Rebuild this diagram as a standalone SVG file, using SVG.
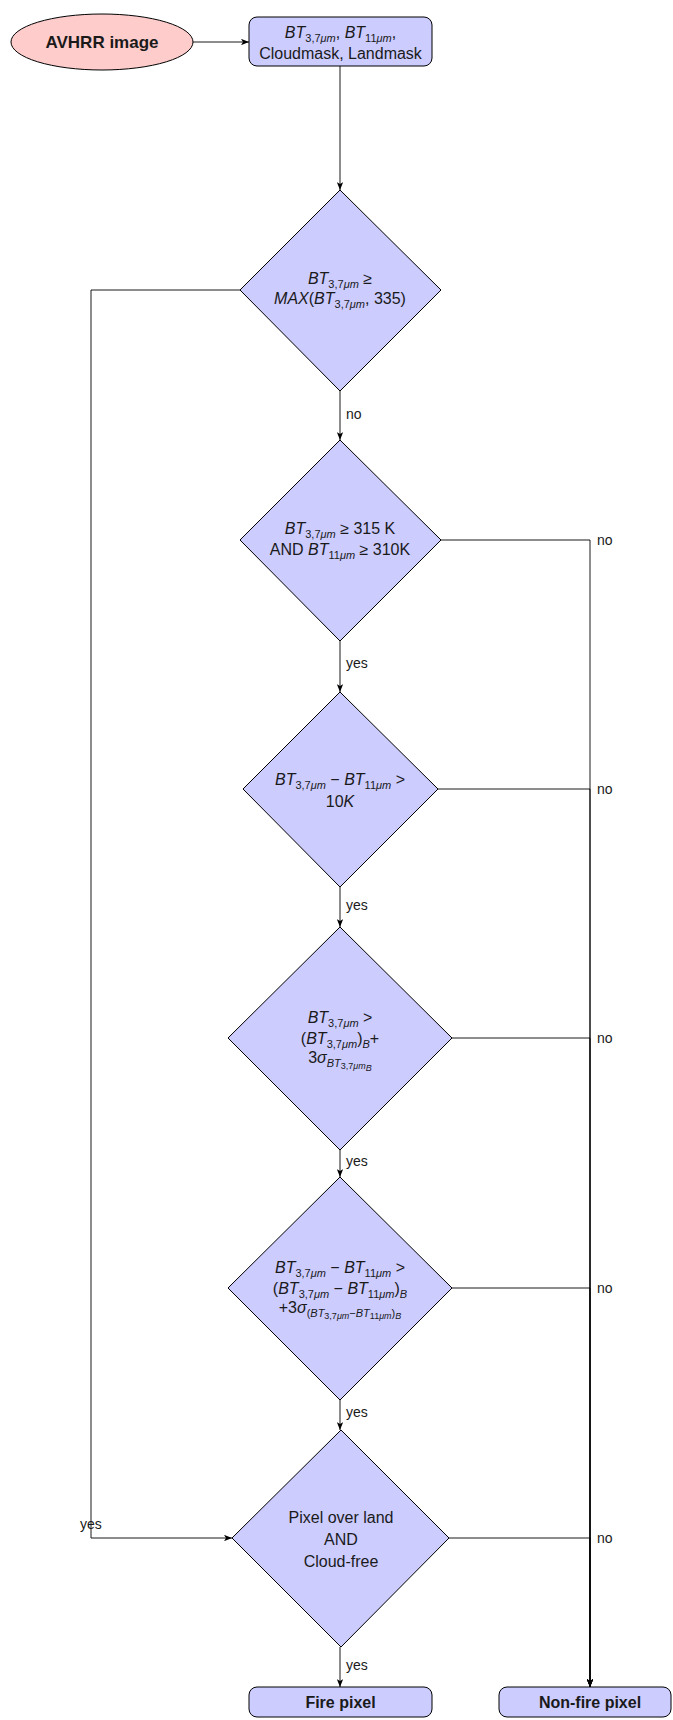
<svg xmlns="http://www.w3.org/2000/svg" width="673" height="1720" viewBox="0 0 673 1720">
<style>
text{font-family:"Liberation Sans",Arial,sans-serif;font-size:16px;fill:#1a1a1a}
.c{text-anchor:middle}
.b{font-weight:bold}
.i{font-style:italic}
.s{font-size:11px}
.ss{font-size:9px}
.lbl{font-size:14px}
.node{fill:#ccccff;stroke:#000;stroke-width:1}
.ell{fill:#ffcccc;stroke:#000;stroke-width:1}
.edge{fill:none;stroke:#000;stroke-width:0.9}
</style>
<defs>
<marker id="arr" viewBox="0 0 10 8" refX="10" refY="4" markerWidth="8" markerHeight="6.4" orient="auto" markerUnits="userSpaceOnUse">
<path d="M0,0 L10,4 L0,8 L2.5,4 z" fill="#000"/>
</marker>
</defs>

<g id="edges">
<path class="edge" d="M193,42 L249,42" marker-end="url(#arr)"/>
<path class="edge" d="M340,66 L340,190" marker-end="url(#arr)"/>
<path class="edge" d="M340,391 L340,440" marker-end="url(#arr)"/>
<path class="edge" d="M340,641 L340,692" marker-end="url(#arr)"/>
<path class="edge" d="M340,887 L340,927" marker-end="url(#arr)"/>
<path class="edge" d="M340,1150 L340,1177" marker-end="url(#arr)"/>
<path class="edge" d="M340,1400 L340,1430" marker-end="url(#arr)"/>
<path class="edge" d="M340,1647 L340,1687" marker-end="url(#arr)"/>
<path class="edge" d="M240,290 L91,290 L91,1538 L232,1538" marker-end="url(#arr)"/>
<path class="edge" d="M441,540 L590,540 L590,1687" marker-end="url(#arr)"/>
<path class="edge" d="M438,789 L590,789 L590,1687" marker-end="url(#arr)"/>
<path class="edge" d="M452,1038 L590,1038 L590,1687" marker-end="url(#arr)"/>
<path class="edge" d="M452,1288 L590,1288 L590,1687" marker-end="url(#arr)"/>
<path class="edge" d="M449,1538 L590,1538 L590,1687" marker-end="url(#arr)"/>
<text class="lbl" x="346" y="419">no</text>
<text class="lbl" x="346" y="668">yes</text>
<text class="lbl" x="346" y="910">yes</text>
<text class="lbl" x="346" y="1166">yes</text>
<text class="lbl" x="346" y="1417">yes</text>
<text class="lbl" x="346" y="1670">yes</text>
<text class="lbl" x="80" y="1529">yes</text>
<text class="lbl" x="597" y="545">no</text>
<text class="lbl" x="597" y="794">no</text>
<text class="lbl" x="597" y="1043">no</text>
<text class="lbl" x="597" y="1293">no</text>
<text class="lbl" x="597" y="1543">no</text>
</g>

<g id="avhrr">
<ellipse class="ell" cx="102" cy="42" rx="91" ry="28"/>
<text class="c b" x="102" y="48" style="font-size:17px">AVHRR image</text>
</g>

<g id="inputs">
<rect class="node" x="249" y="17" width="183" height="49" rx="8"/>
<text class="c" x="340.5" y="38"><tspan class="i">BT</tspan><tspan class="s" dy="4">3,7</tspan><tspan class="s i">μm</tspan><tspan dy="-4">, </tspan><tspan class="i">BT</tspan><tspan class="s" dy="4">11</tspan><tspan class="s i">μm</tspan><tspan dy="-4">,</tspan></text>
<text class="c" x="340.5" y="59">Cloudmask, Landmask</text>
</g>

<g id="d1">
<polygon class="node" points="340,190 441,290 340,391 240,290"/>
<text class="c" x="340" y="284"><tspan class="i">BT</tspan><tspan class="s" dy="4">3,7</tspan><tspan class="s i">μm</tspan><tspan dy="-4"> ≥</tspan></text>
<text class="c" x="340" y="304"><tspan class="i">MAX</tspan>(<tspan class="i">BT</tspan><tspan class="s" dy="4">3,7</tspan><tspan class="s i">μm</tspan><tspan dy="-4">, 335)</tspan></text>
</g>

<g id="d2">
<polygon class="node" points="340,440 441,540 340,641 240,540"/>
<text class="c" x="340" y="534"><tspan class="i">BT</tspan><tspan class="s" dy="4">3,7</tspan><tspan class="s i">μm</tspan><tspan dy="-4"> ≥ 315 K</tspan></text>
<text class="c" x="340" y="555">AND <tspan class="i">BT</tspan><tspan class="s" dy="4">11</tspan><tspan class="s i">μm</tspan><tspan dy="-4"> ≥ 310K</tspan></text>
</g>

<g id="d3">
<polygon class="node" points="340,692 438,789 340,887 243,789"/>
<text class="c" x="340" y="785"><tspan class="i">BT</tspan><tspan class="s" dy="4">3,7</tspan><tspan class="s i">μm</tspan><tspan dy="-4"> − </tspan><tspan class="i">BT</tspan><tspan class="s" dy="4">11</tspan><tspan class="s i">μm</tspan><tspan dy="-4"> &gt;</tspan></text>
<text class="c" x="340" y="807">10<tspan class="i">K</tspan></text>
</g>

<g id="d4">
<polygon class="node" points="340,927 452,1038 340,1150 228,1038"/>
<text class="c" x="340" y="1023"><tspan class="i">BT</tspan><tspan class="s" dy="4">3,7</tspan><tspan class="s i">μm</tspan><tspan dy="-4"> &gt;</tspan></text>
<text class="c" x="340" y="1044">(<tspan class="i">BT</tspan><tspan class="s" dy="4">3,7</tspan><tspan class="s i">μm</tspan><tspan dy="-4">)</tspan><tspan class="s i" dy="4">B</tspan><tspan dy="-4">+</tspan></text>
<text class="c" x="340" y="1063">3<tspan class="i">σ</tspan><tspan class="s i" dy="4">BT</tspan><tspan class="ss" dy="2">3,7</tspan><tspan class="ss i">μm</tspan><tspan class="ss i" dy="2">B</tspan></text>
</g>

<g id="d5">
<polygon class="node" points="340,1177 452,1288 340,1400 228,1288"/>
<text class="c" x="340" y="1273"><tspan class="i">BT</tspan><tspan class="s" dy="4">3,7</tspan><tspan class="s i">μm</tspan><tspan dy="-4"> − </tspan><tspan class="i">BT</tspan><tspan class="s" dy="4">11</tspan><tspan class="s i">μm</tspan><tspan dy="-4"> &gt;</tspan></text>
<text class="c" x="340" y="1294">(<tspan class="i">BT</tspan><tspan class="s" dy="4">3,7</tspan><tspan class="s i">μm</tspan><tspan dy="-4"> − </tspan><tspan class="i">BT</tspan><tspan class="s" dy="4">11</tspan><tspan class="s i">μm</tspan><tspan dy="-4">)</tspan><tspan class="s i" dy="4">B</tspan></text>
<text class="c" x="340" y="1313">+3<tspan class="i">σ</tspan><tspan class="s" dy="4">(</tspan><tspan class="s i">BT</tspan><tspan class="ss" dy="2">3,7</tspan><tspan class="ss i">μm</tspan><tspan class="s" dy="-2">−</tspan><tspan class="s i">BT</tspan><tspan class="ss" dy="2">11</tspan><tspan class="ss i">μm</tspan><tspan class="s" dy="-2">)</tspan><tspan class="ss i" dy="2">B</tspan></text>
</g>

<g id="d6">
<polygon class="node" points="341,1430 449,1538 341,1647 232,1538"/>
<text class="c" x="341" y="1523">Pixel over land</text>
<text class="c" x="341" y="1545">AND</text>
<text class="c" x="341" y="1567">Cloud-free</text>
</g>

<g id="fire">
<rect class="node" x="249" y="1687" width="183" height="30" rx="8"/>
<text class="c b" x="340.5" y="1708">Fire pixel</text>
</g>

<g id="nonfire">
<rect class="node" x="499" y="1687" width="172" height="30" rx="8"/>
<text class="c b" x="590" y="1708">Non-fire pixel</text>
</g>
</svg>
